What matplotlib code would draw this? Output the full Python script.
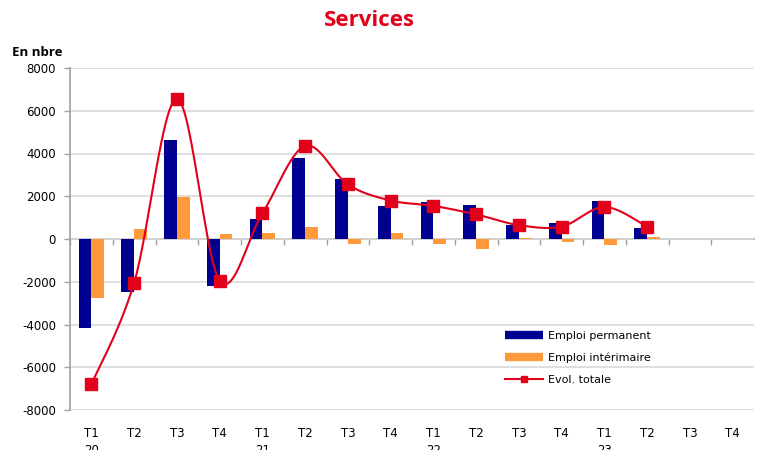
import matplotlib.pyplot as plt
from matplotlib.lines import Line2D
import numpy as np

# Données
trimestres = ["T1\n20", "T2", "T3", "T4", "T1\n21", "T2", "T3", "T4",
              "T1\n22", "T2", "T3", "T4", "T1\n23", "T2", "T3", "T4"]
emploi_permanent = [-4150, -2500, 4650, -2200, 950, 3800, 2800, 1550,
                    1750, 1600, 650, 750, 1800, 500]
emploi_interimaire = [-2750, 450, 1950, 250, 280, 550, -250, 300,
                      -230, -450, 30, -150, -300, 100]
evol_totale = [-6800, -2050, 6550, -1950, 1200, 4350, 2550, 1800,
               1550, 1150, 650, 580, 1500, 580]

c_perm = "#000090"
c_int = "#FF9A3C"
c_red = "#E2001A"
plt.rcParams["axes.unicode_minus"] = False
plt.rcParams["font.family"] = "DejaVu Sans"


def smooth_curve(x, y, n=30):
    # courbe lissée type Excel (Catmull-Rom en Bézier)
    x = np.asarray(x, float)
    y = np.asarray(y, float)
    pts = np.column_stack([x, y])
    ext = np.vstack([pts[0], pts, pts[-1]])
    out = []
    t = np.linspace(0, 1, n)[:, None]
    for i in range(len(pts) - 1):
        p0, p1, p2, p3 = ext[i], ext[i+1], ext[i+2], ext[i+3]
        c1 = p1 + (p2 - p0) / 6
        c2 = p2 - (p3 - p1) / 6
        seg = ((1-t)**3)*p1 + 3*((1-t)**2)*t*c1 + 3*(1-t)*(t**2)*c2 + (t**3)*p2
        out.append(seg if i == 0 else seg[1:])
    out = np.vstack(out)
    return out[:, 0], out[:, 1]


fig = plt.figure(figsize=(7.57, 4.5), dpi=100)
ax = fig.add_axes([70/757, 40/450, 684/757, 342/450])

x = np.arange(len(emploi_permanent))
w = 0.3
ax.bar(x - w/2, emploi_permanent, w, color=c_perm, zorder=2)
ax.bar(x + w/2, emploi_interimaire, w, color=c_int, zorder=2)

xs, ys = smooth_curve(x, evol_totale)
ax.plot(xs, ys, color=c_red, linewidth=1.5, zorder=3)
ax.plot(x, evol_totale, linestyle="none", marker="s", markersize=8,
        color=c_red, zorder=4)

ax.set_xlim(-0.5, len(trimestres) - 0.5)
ax.set_ylim(-8000, 8000)
ax.set_yticks(np.arange(-8000, 8001, 2000))
ax.yaxis.grid(True, color="#d9d9d9", linewidth=1.2, zorder=0)
ax.set_axisbelow(True)

ax.set_xticks(np.arange(len(trimestres)))
ax.set_xticklabels(trimestres, fontsize=8.5, linespacing=1.45, va="top")
ax.tick_params(axis="x", length=0, pad=12)
ax.tick_params(axis="y", length=4, width=1, color="#a0a0a0", pad=6,
               labelsize=8.5)

for s in ["top", "right", "bottom"]:
    ax.spines[s].set_visible(False)
ax.spines["left"].set_color("#a0a0a0")
ax.spines["left"].set_linewidth(1.2)

# axe horizontal à zéro avec graduations entre trimestres
sec = ax.secondary_xaxis(0.5)
sec.xaxis.set_ticks_position("bottom")
sec.set_xticks(np.arange(len(trimestres)) - 0.5)
sec.set_xticklabels([])
sec.tick_params(axis="x", which="both", bottom=True, top=False,
                length=4, width=1, color="#a0a0a0", direction="out")
sec.spines["top"].set_visible(False)
sec.spines["bottom"].set_visible(True)
sec.spines["bottom"].set_color("#a0a0a0")
sec.spines["bottom"].set_linewidth(1.2)

fig.text(369/757, 1 - 20/450, "Services", ha="center", va="center",
         fontsize=16, fontweight="bold", color=c_red, family="Open Sans")
fig.text(12/757, 1 - 52/450, "En nbre", ha="left", va="center",
         fontsize=9.5, fontweight="bold", family="Open Sans")

handles = [
    Line2D([], [], color=c_perm, linewidth=6, solid_capstyle="butt"),
    Line2D([], [], color=c_int, linewidth=6, solid_capstyle="butt"),
    Line2D([], [], color=c_red, linewidth=1.5, marker="s", markersize=5),
]
ax.legend(handles, ["Emploi permanent", "Emploi intérimaire", "Evol. totale"],
          loc="upper left", bbox_to_anchor=(495/757, 1 - 321/450),
          bbox_transform=fig.transFigure, frameon=False,
          prop={"size": 8}, handlelength=3.4,
          labelspacing=1.05, handletextpad=0.45)

fig.savefig("out.png", dpi=100)
